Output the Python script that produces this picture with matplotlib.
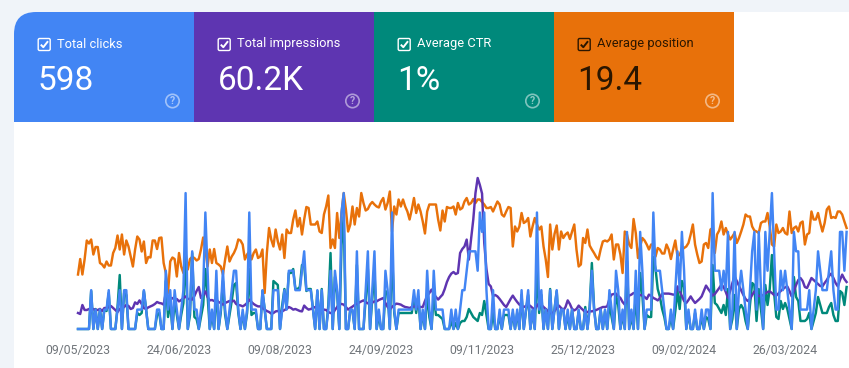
import numpy as np
import matplotlib
matplotlib.use('Agg')
import matplotlib.pyplot as plt
from matplotlib.path import Path
from matplotlib.patches import PathPatch, Rectangle, Circle, FancyBboxPatch

plt.rcParams['font.family'] = ['Roboto', 'DejaVu Sans']

# one value per day, starting 09/05/2023
clicks = [
    0,0,0,0,0,0,2,0,1,0, 1,0,1,1,2,0,0,0,1,2, 0,2,2,0,0,0,0,1,1,1, 2,1,0,0,0,0,1,1,0,0,
    3,1,2,0,2,1,0,1,2,7, 0,1,4,1,1,0,1,2,6,3, 0,1,0,3,0,1,3,1,0,1, 2,3,3,1,0,1,0,1,6,1,
    1,1,0,0,2,1,0,0,0,2, 2,2,0,1,2,1,3,3,3,2, 2,2,3,4,2,2,2,1,0,2, 0,2,0,0,1,3,0,3,2,0,
    6,7,0,0,1,1,0,4,0,0, 0,2,4,0,2,4,0,1,0,0, 3,2,0,6,1,0,1,1,1,1, 1,1,1,2,1,2,0,1,0,3,
    1,0,3,1,1,1,1,0,0,0, 1,0,1,0,1,2,2,3,4,4, 4,4,3,6,5,6,2,0,0,2, 0,0,1,0,1,1,1,0,1,0,
    1,0,2,0,1,2,0,1,0,6, 1,2,0,1,0,2,0,1,2,0, 1,1,0,1,0,1,0,0,1,0, 0,1,0,1,3,1,0,0,1,0,
    1,0,2,1,0,3,2,0,1,0, 5,0,1,0,3,0,5,3,0,1, 1,1,6,3,3,3,2,1,0,0, 1,0,2,4,2,5,3,0,1,0,
    0,1,0,0,1,0,1,1,0,7, 3,3,3,2,3,2,5,0,1,5, 0,2,3,2,1,0,2,4,5,1, 5,2,0,5,3,5,7,4,1,1,
    3,2,3,2,1,0,5,4,4,1, 1,1,1,2,0,1,2,4,3,2, 2,2,3,4,2,1,1,5,5,3, 5,
]
impressions = [
    80,75,120,95,95,100,90,100,95,95, 100,90,105,105,110,115,105,95,85,100,
    105,110,120,115,100,105,133,125,143,125, 105,100,108,113,118,125,135,130,128,122,
    180,165,150,155,145,150,138,145,155,163, 150,150,147,165,190,210,155,170,188,160,
    143,145,140,147,135,130,122,130,135,140, 138,142,125,120,118,113,120,130,147,135,
    125,118,113,113,105,97,90,85,77,80, 88,90,85,88,95,100,110,105,97,100,
    95,90,88,117,105,97,100,105,110,105, 100,97,97,95,85,80,77,95,110,127,
    125,122,110,97,105,112,120,127,132,138, 143,135,128,127,132,138,138,145,150,155,
    130,110,97,110,120,127,125,122,115,110, 108,105,110,113,112,110,110,110,140,165,
    180,197,175,160,147,160,172,200,235,260, 277,285,275,280,380,400,413,447,347,450,
    547,680,755,720,677,430,300,225,213,165, 170,163,150,135,120,110,130,150,167,150,
    135,122,115,110,115,122,115,105,97,115, 130,120,110,100,90,80,77,90,105,117,
    105,93,110,143,125,100,93,100,117,105, 95,83,85,90,88,92,95,100,105,110,
    110,113,150,172,175,177,165,155,135,122, 145,167,172,180,178,175,170,167,160,150,
    172,165,155,150,143,155,177,177,177,177, 175,172,172,213,190,165,140,130,145,163,
    145,130,140,150,163,190,217,200,185,167, 175,190,205,222,210,185,155,190,230,263,
    240,217,195,170,150,140,150,170,188,175, 165,163,170,178,185,188,180,170,167,178,
    190,200,208,213,190,163,190,220,245,255, 240,210,205,230,255,245,235,225,215,213,
    230,245,265,277,255,230,213,245,272,250,235,
]
ctr = [
    0,0,0,0,0,0,1.9,0,1.0,0, 1.0,0,1.0,0.9,1.8,0,0,0,1.1,2.7,
    0,1.8,1.7,0,0,0,0,0.8,0.7,0.8, 1.9,1.0,0,0,0,0,0.7,0.8,0,0,
    2.4,0.6,1.3,0,1.4,0.7,0,0.7,1.3,4.0, 0,0.7,3.8,0.6,0.5,0,0.6,1.2,3.0,1.7,
    0,0.7,0,2.0,0,0.8,2.4,0.7,0,0.7, 1.4,2.2,2.3,0.8,0,0.8,0,0.8,3.0,0.7,
    0.8,0.8,0,0,1.9,1.0,0,0,0,2.4, 2.3,2.2,0,1.2,2.0,1.0,2.8,2.8,3.0,2.0,
    2.0,2.1,3.2,3.2,1.9,2.0,2.0,1.0,0,1.9, 0,2.0,0,0,1.2,3.8,0,2.6,1.8,0,
    4.2,5.6,0,0,1.0,0.9,0,3.2,0,0, 0,1.5,3.0,0,1.5,2.9,0,0.7,0,0,
    1.9,1.8,0,4.0,0.8,0,0.8,0.8,0.8,0.8, 0.8,0.8,0.8,1.6,0.8,1.6,0,0.8,0,1.8,
    0.6,0,1.7,0.7,0.7,0.6,0.5,0,0,0, 0.4,0,0.3,0,0.3,0.4,0.4,0.6,1.0,0.8,
    0.6,0.5,0.4,0.8,0.7,1.4,0.7,0,0,0.8, 0,0,0.7,0,0.7,0.7,0.7,0,0.8,0,
    0.8,0,1.7,0,0.9,1.7,0,0.9,0,3.0, 0.8,1.7,0,1.0,0,2.0,0,1.0,1.9,0,
    1.0,1.0,0,0.7,0,1.0,0,0,0.9,0, 0,1.1,0,1.1,3.3,1.1,0,0,1.0,0,
    0.9,0,1.3,0.6,0,1.7,1.2,0,0.7,0, 3.4,0,0.6,0,1.7,0,2.8,1.7,0,0.7,
    0.6,0.6,3.6,3.0,2.0,1.6,1.0,0.6,0,0, 0.6,0,0.9,1.9,1.0,2.4,2.1,0,0.8,0,
    0,0.8,0,0,0.6,0,0.6,0.5,0,3.2, 1.3,1.2,1.0,0.8,1.2,0.7,2.0,0,0.5,1.7,
    0,1.0,1.2,1.0,0.4,0,1.2,2.3,2.2,0.4, 2.0,1.0,0,2.2,1.2,2.0,3.7,1.8,0.6,0.5,
    1.4,1.0,1.3,1.0,0.5,0,2.6,1.6,1.4,0.4, 0.4,0.4,0.5,0.8,0,0.4,0.8,1.6,1.2,0.8,
    0.8,0.8,1.1,1.3,0.7,0.4,0.4,1.9,1.8,1.2,2.1,
]
position = [
    10.9,14,10.9,13.9,17.7,17.1,17.9,14.9,16.4,16.4, 13.2,12.9,12.3,13.5,12.7,12.7,15.2,16.2,18.7,15.9,
    18.9,14.9,17.7,16.5,14.5,12.5,15.9,18.5,17.9,15.5, 17.5,13.2,14.4,14.3,17.7,17.7,16,18.2,18.3,13.2,
    11.2,7.2,13.5,14.3,14,10.5,15.2,12.5,11.2,15.2, 11.9,14,14.4,14.2,13.7,14,15.9,18.3,15.9,12.5,
    15.9,13.2,16,13.2,12.9,12.5,10.9,13.9,16.5,13.5, 14.5,15.2,16.2,17.9,17.7,16.9,13.9,14.9,15.5,13.9,
    15.2,15.9,14.2,14.5,15.9,7.2,15.2,20.2,17.9,16.5, 19.9,17.5,15.9,18.9,14.2,19.9,19.2,19.2,21.9,23.7,
    20.5,22.2,18.9,21.9,24.4,24.2,20.9,20.9,20.9,21.5, 19.5,19.2,22.9,24.5,26.7,16.2,17.9,16.2,23.2,18.2,
    23.2,27.2,23.9,19.5,20.9,24.5,20.9,24.2,22.5,27.2, 25.2,23.7,24,24.9,25.4,24.9,24.5,24.3,25.5,26.2,
    23.9,25.2,27.5,19.5,24.5,22.9,25.9,24.5,25.9,24.5, 23.5,21.9,23.9,26.2,23.2,24.9,23.5,21.5,19.1,23.5,
    24.9,24.9,24.9,24.9,21.9,19.7,23.7,21.5,24.4,24.2, 24.2,24.5,22.9,25.2,23.9,24.2,25.5,26.2,24.9,25.2,
    26,25.2,25.9,25.9,25.4,24.9,24.2,24.2,24.4,23.5, 24.5,25.5,24.9,22.9,22.5,23.5,24.4,24.2,16.5,20.5,
    19.5,20.5,23.2,21.2,21.5,22.2,18.5,20.5,22.2,20.9, 19.9,20.5,16.5,13.9,10.4,20.9,15.9,19,20.7,15.9,
    19.5,18.2,18.9,19.3,18,19.5,20.9,15.9,12.5,12.9, 18.2,17.2,19.9,16.7,15.9,15.2,14.4,13.9,15.9,17.5,
    17.7,17.5,17.9,18.9,13.9,16.9,16.9,14.9,11.2,19.5, 18.9,16.9,16.2,22,19.2,14.2,16.5,18.2,17.7,16.9,
    15.9,16.9,16.9,14.5,16.2,15.9,15.1,15.1,16.9,15.9, 14,15.9,17.7,14.5,14.9,15.9,16.2,16.5,17.2,18.9,
    20.9,16.9,14.9,13.2,13.5,16.9,17.2,16.2,19.9,20.2, 15.2,18.9,19.7,21.5,18.9,20.2,18.9,17.9,18.5,19.2,
    17.2,18.2,19.5,20.9,22.9,22.5,22.5,20.5,19.7,19.5, 19.2,21.2,21.5,21.5,23.2,20.5,16.9,16.5,20.9,19.2,
    19.5,20.2,19.2,18.9,23.5,19.2,20.2,20.5,19.5,21.2, 21.5,16.9,18.9,19.2,23.5,21.9,21.9,23.2,21.2,19.5,
    21.2,23.9,24.5,22.2,22.4,22.2,23.5,23.5,22.9,21.5,20.2,
]

tick_days = [0, 46, 92, 138, 184, 230, 276, 322]
tick_labels = ['09/05/2023', '24/06/2023', '09/08/2023', '24/09/2023',
               '09/11/2023', '25/12/2023', '09/02/2024', '26/03/2024']

card_titles = ['Total clicks', 'Total impressions', 'Average CTR', 'Average position']
card_values = ['598', '60.2K', '1%', '19.4']
card_colors = ['#4285F4', '#5E35B1', '#00897B', '#E8710A']
card_inks = ['white', 'white', 'white', '#2b1600']


def rounded_corner_path(x0, y0, x1, y1, r):
    # only the top left corner is round
    verts = [(x0, y1), (x0, y0 + r), (x0, y0), (x0 + r, y0), (x1, y0), (x1, y1), (x0, y1)]
    codes = [Path.MOVETO, Path.LINETO, Path.CURVE3, Path.CURVE3, Path.LINETO, Path.LINETO, Path.CLOSEPOLY]
    return Path(verts, codes)


def draw_card(bg, i):
    left = 14 + i * 180
    ink = card_inks[i]
    if i == 0:
        bg.add_patch(PathPatch(rounded_corner_path(left, 12, left + 180, 122, 22),
                               fc=card_colors[i], ec='none'))
    else:
        bg.add_patch(Rectangle((left, 12), 180, 110, fc=card_colors[i], ec='none'))

    # checkbox
    bg.add_patch(FancyBboxPatch((left + 24.2, 38.5), 12, 12, boxstyle='round,pad=0,rounding_size=1.5',
                                fc='none', ec=ink, lw=1.0))
    bg.plot([left + 26.8, left + 29.3, left + 34], [44.6, 47.2, 41.2], color=ink, lw=1.4,
            solid_capstyle='butt')

    bg.text(left + 43, 44, card_titles[i], color=ink, fontsize=9.3, va='center', ha='left')
    bg.text(left + 23.5, 80.5, card_values[i], color=ink, fontsize=24, va='center', ha='left')

    # help icon
    bg.add_patch(Circle((left + 158.5, 101), 6.7, fc='none', ec='white', lw=1.2, alpha=0.5))
    bg.text(left + 158.5, 101.3, '?', color='white', alpha=0.55, fontsize=7.5, va='center',
            ha='center', fontweight='bold')


def main():
    fig = plt.figure(figsize=(8.49, 3.68), dpi=100, facecolor='#F0F4F9')

    # page and cards, in pixels of the picture
    bg = fig.add_axes([0, 0, 1, 1])
    bg.set_xlim(0, 849)
    bg.set_ylim(368, 0)
    bg.axis('off')
    bg.add_patch(PathPatch(rounded_corner_path(14, 12, 860, 380, 22), fc='white', ec='none'))
    for i in range(4):
        draw_card(bg, i)

    # chart, each metric has its own hidden scale
    rect = [78 / 849, (368 - 329) / 368, (849 - 78) / 849, 154 / 368]
    ax = fig.add_axes(rect)
    ax.patch.set_alpha(0)
    series = [(position, 30.8, '#E8710A'), (ctr, 7.7, '#00897B'),
              (impressions, 770, '#5E35B1'), (clicks, 7.93, '#4285F4')]

    for n, (values, top, color) in enumerate(series):
        a = ax if n == 0 else ax.twinx()
        a.plot(np.arange(len(values)), values, color=color, lw=1.75, clip_on=False,
               solid_joinstyle='round')
        a.set_ylim(0, top)
        a.set_xlim(0, 351.1)
        a.set_yticks([])
        for s in a.spines.values():
            s.set_visible(False)

    ax.set_xticks(tick_days)
    ax.set_xticklabels(tick_labels, fontsize=8.8, color='#70757A')
    ax.tick_params(axis='x', length=0, pad=10.5)

    fig.savefig('out.png', dpi=100, facecolor=fig.get_facecolor())


if __name__ == "__main__":
    main()
